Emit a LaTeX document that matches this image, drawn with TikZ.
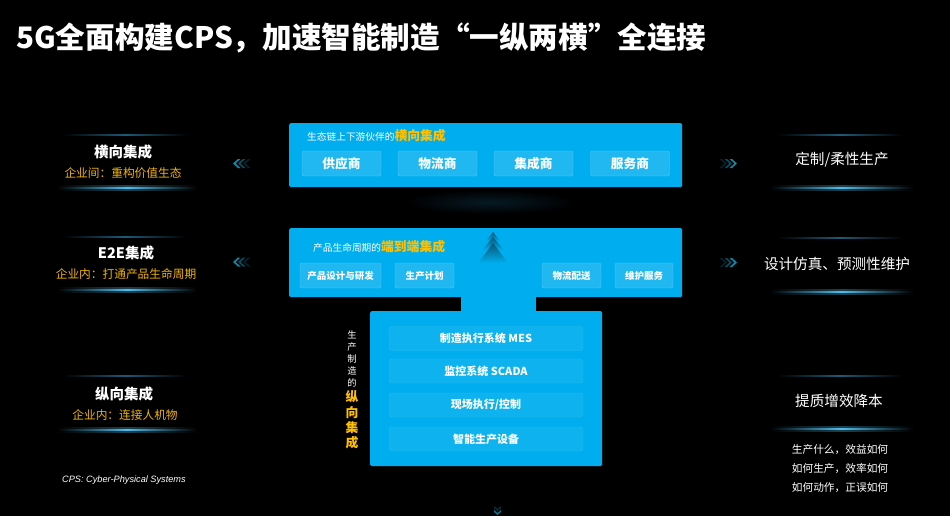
\documentclass[tikz,border=0pt]{standalone}
\usepackage{fontspec}
\setmainfont{Noto Sans CJK SC}
\newfontfamily\latinfont{Liberation Sans}
\definecolor{panelblue}{RGB}{0,174,239}
\definecolor{ylw}{RGB}{255,192,0}
\definecolor{ylwtxt}{RGB}{240,180,0}
\definecolor{glowblue}{RGB}{80,190,235}
\definecolor{faintblue}{RGB}{30,90,120}
\definecolor{chevcol}{RGB}{20,150,185}
\definecolor{arrowdark}{RGB}{10,85,115}
\definecolor{shadowcol}{RGB}{6,26,36}
\newcommand\fsz[1]{\fontsize{#1}{#1}\selectfont}
\newcommand\glowlow[3]{%
  \shade[left color=black,right color=black,middle color=glowblue!35!black] (#1,#3-2.2) rectangle (#2,#3+2.2);
  \shade[left color=black,right color=black,middle color=glowblue] (#1,#3-0.8) rectangle (#2,#3+0.8);}
\newcommand\glowhigh[3]{%
  \shade[left color=black,right color=black,middle color=faintblue] (#1,#3-0.6) rectangle (#2,#3+0.6);}
\newcommand\chevleft[2]{%
  \foreach \dx/\op in {0/0.9,5/0.5,10/0.22}{
    \fill[chevcol,opacity=\op] (#1+\dx,#2) -- (#1+\dx+5,#2-4.5) -- (#1+\dx+7.5,#2-4.5) -- (#1+\dx+2.5,#2) -- (#1+\dx+7.5,#2+4.5) -- (#1+\dx+5,#2+4.5) -- cycle;}}
\newcommand\chevright[2]{%
  \foreach \dx/\op in {0/0.9,5/0.5,10/0.22}{
    \fill[chevcol,opacity=\op] (#1-\dx,#2) -- (#1-\dx-5,#2-4.5) -- (#1-\dx-7.5,#2-4.5) -- (#1-\dx-2.5,#2) -- (#1-\dx-7.5,#2+4.5) -- (#1-\dx-5,#2+4.5) -- cycle;}}
\begin{document}
\begin{tikzpicture}[x=1pt,y=-1pt,
  panel/.style={fill=panelblue,rounded corners=1.5pt,anchor=north west,inner sep=0pt},
  subbox/.style={fill=white,fill opacity=0.13,draw=white,draw opacity=0.28,rounded corners=2pt,
     text opacity=1,text=white,font=\bfseries\fsz{12.7},inner sep=0pt},
  subsmall/.style={subbox,font=\bfseries\fsz{9.5}},
  rowbox/.style={fill=white,fill opacity=0.05,draw=white,draw opacity=0.14,rounded corners=3pt,
     text opacity=1,text=white,font=\bfseries\fsz{11},inner sep=0pt,minimum width=194pt,minimum height=24pt},
  ltitle/.style={text=white,font=\bfseries\fsz{14.5},inner sep=0pt},
  lsub/.style={text=ylwtxt,font=\fsz{11.7},inner sep=0pt},
  rtitle/.style={text=white,font=\fsz{14.6},inner sep=0pt},
  rline/.style={text=white,font=\fsz{10.7},inner sep=0pt}]
\fill[black] (0,0) rectangle (950,516);
\useasboundingbox (0,0) rectangle (950,516);

% title
\node[anchor=west,inner sep=0pt,text=white,font=\bfseries\fsz{29.6}] (title) at (16,38)
  {5G全面构建CPS，加速智能制造“一纵两横”全连接};

% shadow between panels
\shade[inner color=shadowcol,outer color=black] (490,202) ellipse [x radius=85pt,y radius=12pt];

% panels
\node[panel,minimum width=393pt,minimum height=64pt] (hpanel) at (289,123) {};
\node[panel,minimum width=393pt,minimum height=69pt] (e2e) at (289,228) {};
\node[panel,minimum width=232pt,minimum height=155pt] (vpanel) at (370,311) {};
\fill[panelblue] (461,296) rectangle (536,312);

% panel 1
\node[anchor=base west,inner sep=0pt,text=white] (hlab) at (307,141)
  {\fsz{9.7}生态链上下游伙伴的{\color{ylw}\bfseries\fsz{12.8}横向集成}};
\node[subbox,minimum width=79pt,minimum height=25pt] (sup) at (341.5,163.5) {供应商};
\node[subbox,minimum width=79pt,minimum height=25pt] (log) at (437.5,163.5) {物流商};
\node[subbox,minimum width=79pt,minimum height=25pt] (int) at (533.5,163.5) {集成商};
\node[subbox,minimum width=79pt,minimum height=25pt] (srv) at (630,163.5) {服务商};

% panel 2
\node[anchor=base west,inner sep=0pt,text=white] (elab) at (313,251.5)
  {\fsz{9.7}产品生命周期的{\color{ylw}\bfseries\fsz{12.8}端到端集成}};
\node[subsmall,minimum width=81pt,minimum height=25pt] (design) at (340.5,275.5) {产品设计与研发};
\node[subsmall,minimum width=59pt,minimum height=25pt] (plan) at (424.5,275.5) {生产计划};
\node[subsmall,minimum width=59pt,minimum height=25pt] (dist) at (571.5,275.5) {物流配送};
\node[subsmall,minimum width=58pt,minimum height=25pt] (maint) at (644,275.5) {维护服务};
% up arrow chevrons
\shade[top color=arrowdark,bottom color=panelblue] (493,232) -- (500,241) -- (486,241) -- cycle;
\shade[top color=arrowdark,bottom color=panelblue] (493,237) -- (504,250) -- (482,250) -- cycle;
\shade[top color=arrowdark,bottom color=panelblue] (493,243) -- (508,263) -- (478,263) -- cycle;

% panel 3
\node[rowbox] (mes) at (486,338.5) {制造执行系统 MES};
\node[rowbox] (scada) at (486,371) {监控系统 SCADA};
\node[rowbox] (ctrl) at (486,405) {现场执行/控制};
\node[rowbox] (dev) at (486,439) {智能生产设备};
\node[align=center,text=white,font=\fsz{9.3},inner sep=0pt] (vlab) at (352,359)
  {生\\[2.7pt]产\\[2.7pt]制\\[2.7pt]造\\[2.7pt]的};
\node[align=center,text=ylw,font=\bfseries\fsz{12.8},inner sep=0pt] (vlabY) at (352,420)
  {纵\\[2.5pt]向\\[2.5pt]集\\[2.5pt]成};

% bottom small arrow
\fill[chevcol,opacity=0.3] (494,506) -- (497.5,509) -- (501,506) -- (501,508) -- (497.5,511) -- (494,508) -- cycle;
\fill[chevcol,opacity=0.75] (494,510) -- (497.5,513) -- (501,510) -- (501,512) -- (497.5,515) -- (494,512) -- cycle;

% left side
\glowhigh{63}{187}{135}
\node[ltitle] (lt1) at (123,152) {横向集成};
\node[lsub] (ls1) at (123,173) {企业间：重构价值生态};
\glowlow{57}{197}{188}
\chevleft{233}{163.5}

\glowhigh{63}{187}{237}
\node[ltitle] (lt2) at (126,253) {E2E集成};
\node[lsub] (ls2) at (126,274) {企业内：打通产品生命周期};
\glowlow{57}{197}{290}
\chevleft{233}{262}

\glowhigh{63}{187}{376}
\node[ltitle] (lt3) at (124,394) {纵向集成};
\node[lsub] (ls3) at (125,415) {企业内：连接人机物};
\glowlow{57}{197}{430}

\node[anchor=west,inner sep=0pt,text=white,font=\latinfont\itshape\fsz{9.2}] (cpsnote) at (62,480)
  {CPS: Cyber-Physical Systems};

% right side
\glowhigh{777}{903}{135}
\node[rtitle] (rt1) at (842,160) {定制/柔性生产};
\glowlow{770}{913}{188}
\chevright{737}{163.5}

\glowhigh{777}{903}{238}
\node[rtitle] (rt2) at (837,264) {设计仿真、预测性维护};
\glowlow{770}{913}{292}
\chevright{737}{262.5}

\glowhigh{777}{903}{376}
\node[rtitle] (rt3) at (839,401) {提质增效降本};
\glowlow{770}{913}{429}
\node[rline] (rl1) at (840,450) {生产什么，效益如何};
\node[rline] (rl2) at (840,469) {如何生产，效率如何};
\node[rline] (rl3) at (840,488) {如何动作，正误如何};
\end{tikzpicture}
\end{document}
